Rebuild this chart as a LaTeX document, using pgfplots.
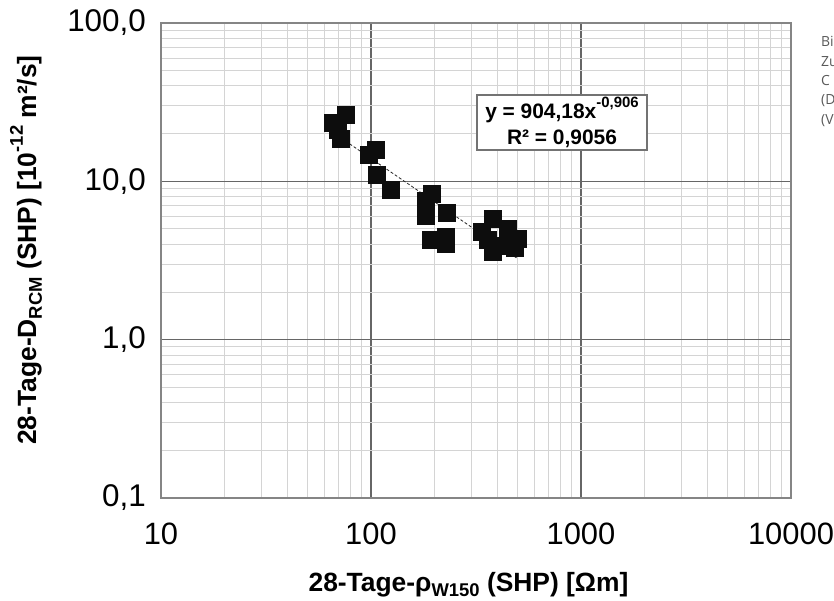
\documentclass[border=0pt]{standalone}
\usepackage{pgfplots}
\pgfplotsset{compat=1.18}
\usepackage{fontspec}
\setmainfont{Liberation Sans}
\newfontfamily\opensans{Open Sans}
\begin{document}
\begin{tikzpicture}
\useasboundingbox (0,0) rectangle (834bp,601bp);
\begin{axis}[
  at={(161bp,103bp)}, anchor=south west,
  scale only axis, width=630bp, height=475bp,
  xmode=log, ymode=log,
  xmin=10, xmax=10000, ymin=0.1, ymax=100,
  xtick={10,100,1000,10000},
  xticklabels={10,100,1000,10000},
  ytick={0.1,1,10,100},
  yticklabels={{0,1},{1,0},{10,0},{100,0}},
  minor xtick={20,30,40,50,60,70,80,90,200,300,400,500,600,700,800,900,2000,3000,4000,5000,6000,7000,8000,9000},
  minor ytick={0.2,0.3,0.4,0.5,0.6,0.7,0.8,0.9,2,3,4,5,6,7,8,9,20,30,40,50,60,70,80,90},
  grid=both,
  major grid style={color=black!60, line width=1.3bp},
  minor grid style={color=black!17, line width=1bp},
  axis line style={color=black!48, line width=2bp},
  major tick length=0pt, minor tick length=0pt,
  xticklabel style={font=\fontsize{31}{31}\selectfont, anchor=north, inner sep=0pt, yshift=-25bp},
  yticklabel style={font=\fontsize{31.5}{31.5}\selectfont, anchor=east, inner sep=0pt, xshift=-15bp},
]
\addplot[black!85, densely dashed, line width=0.8bp] coordinates {(66,20.32) (501,3.237)};
\addplot[only marks, mark=square*, mark size=8.5bp, mark options={fill=black!95, draw=black!95, line width=0pt}] coordinates {
(76.0,26.2) (65.9,23.4) (71.9,18.5) (69.7,21.1)
(97.8,14.7) (105.6,15.8) (106.8,10.96) (124.4,8.81)
(182.9,7.52) (195.0,8.32) (182.9,6.04) (230,6.31)
(193,4.26) (228,4.45) (228,4.02)
(381,5.78) (338,4.79) (449,5.00) (501,4.33)
(381,3.57) (440,3.90) (485,3.80) (361,4.26)
};
\end{axis}
\node[draw=black!55, line width=1.3bp, fill=white, align=center,
      font=\bfseries\fontsize{21}{26}\selectfont,
      minimum width=170bp, minimum height=55bp, inner sep=2bp]
  at (562bp,478.5bp) {y = 904,18x\raisebox{0.5em}{\fontsize{15}{15}\selectfont -0,906}\\R² = 0,9056};
\node[rotate=90, anchor=base, font=\bfseries\fontsize{26.5}{30}\selectfont]
  at (36bp,351bp) {28-Tage-D\raisebox{-0.22em}{\fontsize{18.5}{18.5}\selectfont RCM} (SHP) [10\raisebox{0.5em}{\fontsize{18.5}{18.5}\selectfont -12} m²/s]};
\node[anchor=base, font=\bfseries\fontsize{26.5}{30}\selectfont]
  at (468.5bp,10bp) {28-Tage-ρ\raisebox{-0.22em}{\fontsize{18.5}{18.5}\selectfont W150} (SHP) [Ωm]};
\begin{scope}[every node/.style={anchor=base west, inner sep=0pt, font=\opensans\fontsize{14}{14}\selectfont, text=black!65}]
\node at (821bp,554bp) {Bi};
\node at (821bp,534bp) {Zu};
\node at (821bp,515bp) {C};
\node at (821bp,496bp) {(D};
\node at (821bp,476bp) {(V};
\end{scope}
\end{tikzpicture}
\end{document}
